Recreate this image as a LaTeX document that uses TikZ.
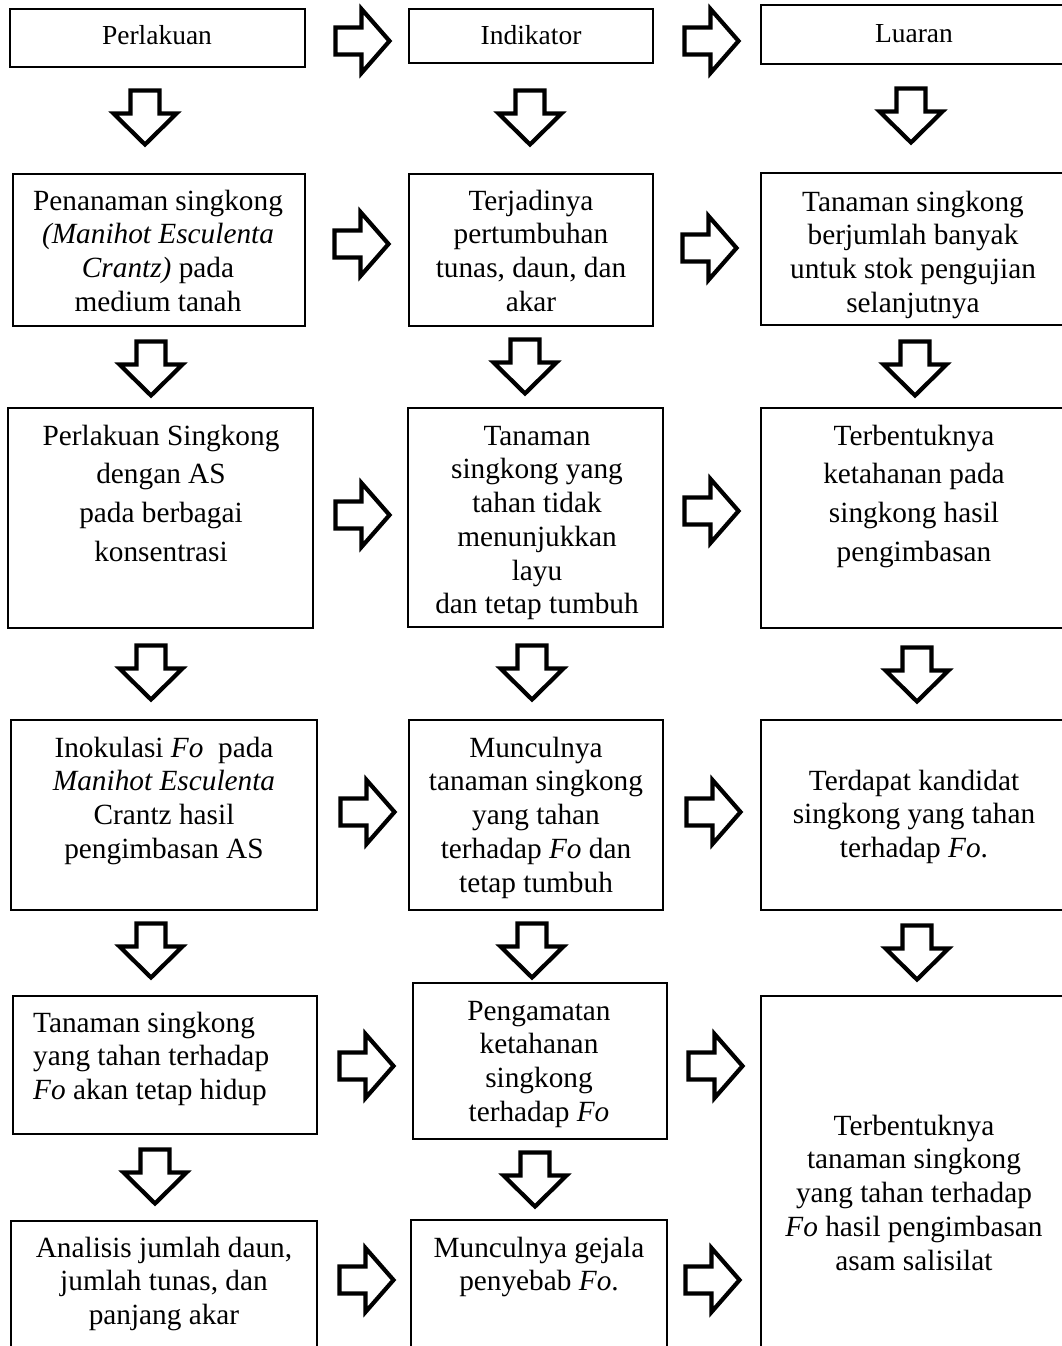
\documentclass[tikz,border=0pt]{standalone}
\usepackage{fontspec}
\setmainfont{Liberation Serif}
\usetikzlibrary{fit}
\newcommand\fstrut{\rule{0pt}{30pt}}
\tikzset{
  box/.style={draw=black, line width=1.2pt, inner sep=0pt},
  txt/.style={inner sep=0pt, anchor=north, align=center, font=\fontsize{29.3}{33.7}\selectfont},
  txtw/.style={txt, font=\fontsize{29.3}{38.7}\selectfont},
  txtl/.style={txt, align=left, anchor=north west},
  hdr/.style={txt, font=\fontsize{27.5}{33}\selectfont},
  barrow/.style={draw=black, line width=4.2pt, fill=white, line join=miter},
  rarr/.pic={\draw[barrow] (0,-13.5) -- (26,-13.5) -- (26,-32) -- (54,0) -- (26,32) -- (26,13.5) -- (0,13.5) -- cycle;},
  darr/.pic={\draw[barrow] (-14.5,0) -- (14.5,0) -- (14.5,23) -- (31.5,23) -- (0,54) -- (-31.5,23) -- (-14.5,23) -- cycle;}
}
\begin{document}
\begin{tikzpicture}[x=1pt,y=-1pt]
\useasboundingbox (0,0) rectangle (1062,1346);
\clip (0,0) rectangle (1062,1346);
% boxes column 1
\node[box, fit={(10,9) (305,67)}] (b11) {};
\node[box, fit={(13,174) (305,326)}] (b12) {};
\node[box, fit={(8,408) (313,628)}] (b13) {};
\node[box, fit={(11,720) (317,910)}] (b14) {};
\node[box, fit={(13,996) (317,1134)}] (b15) {};
\node[box, fit={(11,1221) (317,1370)}] (b16) {};
% boxes column 2
\node[box, fit={(409,9) (653,63)}] (b21) {};
\node[box, fit={(409,174) (653,326)}] (b22) {};
\node[box, fit={(408,408) (663,627)}] (b23) {};
\node[box, fit={(409,720) (663,910)}] (b24) {};
\node[box, fit={(413,983) (667,1139)}] (b25) {};
\node[box, fit={(411,1220) (667,1370)}] (b26) {};
% boxes column 3
\node[box, fit={(761,5) (1070,64)}] (b31) {};
\node[box, fit={(761,173) (1070,325)}] (b32) {};
\node[box, fit={(761,408) (1070,628)}] (b33) {};
\node[box, fit={(761,720) (1070,910)}] (b34) {};
\node[box, fit={(761,996) (1070,1370)}] (b35) {};
% texts
\node[hdr] (t11) at (157,44-30) {\fstrut Perlakuan};
\node[hdr] (t21) at (531,44-30) {\fstrut Indikator};
\node[hdr] (t31) at (914,42-30) {\fstrut Luaran};
\node[txt] (t12) at (158,210-30) {\fstrut Penanaman singkong\\\textit{(Manihot Esculenta}\\\textit{Crantz)} pada\\medium tanah};
\node[txt] (t22) at (531,210-30) {\fstrut Terjadinya\\pertumbuhan\\tunas, daun, dan\\akar};
\node[txt] (t32) at (913,211-30) {\fstrut Tanaman singkong\\berjumlah banyak\\untuk stok pengujian\\selanjutnya};
\node[txtw] (t13) at (161,445-30) {\fstrut Perlakuan Singkong\\dengan AS\\pada berbagai\\konsentrasi};
\node[txt] (t23) at (537,445-30) {\fstrut Tanaman\\singkong yang\\tahan tidak\\menunjukkan\\layu\\dan tetap tumbuh};
\node[txtw] (t33) at (914,445-30) {\fstrut Terbentuknya\\ketahanan pada\\singkong hasil\\pengimbasan};
\node[txt] (t14) at (164,757-30) {\fstrut Inokulasi \textit{Fo}~ pada\\\textit{Manihot Esculenta}\\Crantz hasil\\pengimbasan AS};
\node[txt] (t24) at (536,757-30) {\fstrut Munculnya\\tanaman singkong\\yang tahan\\terhadap \textit{Fo} dan\\tetap tumbuh};
\node[txt] (t34) at (914,790-30) {\fstrut Terdapat kandidat\\singkong yang tahan\\terhadap \textit{Fo}.};
\node[txtl] (t15) at (33,1032-30) {\fstrut Tanaman singkong\\yang tahan terhadap\\\textit{Fo} akan tetap hidup};
\node[txt] (t25) at (539,1020-30) {\fstrut Pengamatan\\ketahanan\\singkong\\terhadap \textit{Fo}};
\node[txt] (t35) at (914,1135-30) {\fstrut Terbentuknya\\tanaman singkong\\yang tahan terhadap\\\textit{Fo} hasil pengimbasan\\asam salisilat};
\node[txt] (t16) at (164,1257-30) {\fstrut Analisis jumlah daun,\\jumlah tunas, dan\\panjang akar};
\node[txt] (t26) at (539,1257-30) {\fstrut Munculnya gejala\\penyebab \textit{Fo}.};
% right block arrows
\pic at (335.5,41) {rarr};
\pic at (684.5,41) {rarr};
\pic at (334.5,244) {rarr};
\pic at (682.5,248) {rarr};
\pic at (335.5,515) {rarr};
\pic at (684.5,511) {rarr};
\pic at (340.5,812) {rarr};
\pic at (686.5,812) {rarr};
\pic at (339.5,1066) {rarr};
\pic at (688.5,1066) {rarr};
\pic at (339.5,1280) {rarr};
\pic at (685.5,1280) {rarr};
% down block arrows
\pic at (145,90.5) {darr};
\pic at (151,341.5) {darr};
\pic at (151,645.5) {darr};
\pic at (151,923.5) {darr};
\pic at (155,1149.5) {darr};
\pic at (530,90.5) {darr};
\pic at (525,339.5) {darr};
\pic at (532,645.5) {darr};
\pic at (532,923.5) {darr};
\pic at (535,1152.5) {darr};
\pic at (911,88.5) {darr};
\pic at (915,341.5) {darr};
\pic at (917,647.5) {darr};
\pic at (917,925.5) {darr};
\end{tikzpicture}
\end{document}
